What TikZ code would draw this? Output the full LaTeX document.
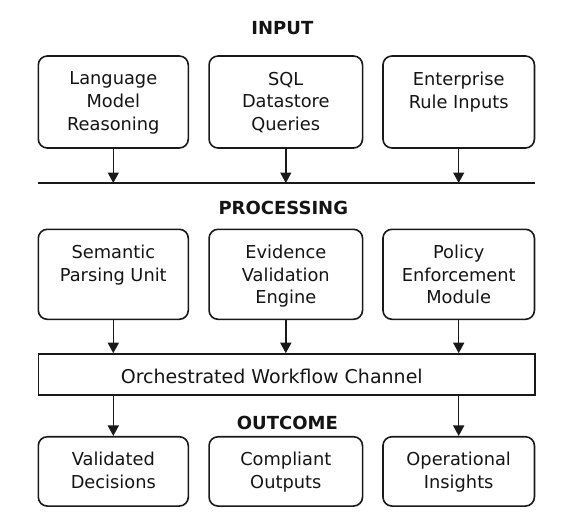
\documentclass[tikz,border=0pt]{standalone}
\usepackage{fontspec}
\setmainfont{DejaVu Sans}
\usetikzlibrary{arrows.meta}
\begin{document}
\begin{tikzpicture}[x=1pt,y=-1pt,
  box/.style={draw=black!90, line width=1.6pt, rounded corners=9pt, minimum width=#1, inner sep=0pt},
  lbl/.style={align=center, anchor=north, inner sep=0pt, font=\fontsize{17.8}{22.6}\selectfont, text=black!92},
  ttl/.style={inner sep=0pt, font=\fontsize{18}{22}\selectfont\bfseries, text=black!92},
  arr/.style={line width=1.5pt, draw=black!90, -{Triangle[length=10.5pt,width=11pt]}}]
\useasboundingbox (0,0) rectangle (574,528);
% titles
\node[ttl] (tin) at (282.4,28) {INPUT};
\node[ttl] (tpr) at (283.3,208) {PROCESSING};
\node[ttl] (tout) at (287.4,423) {OUTCOME};
% input row
\node[box=150pt, minimum height=92pt] (i1) at (113.3,102) {};
\node[box=153.5pt, minimum height=92pt] (i2) at (285.8,102) {};
\node[box=151.5pt, minimum height=92pt] (i3) at (458.7,102) {};
\node[lbl] (li1) at ([yshift=-16.5pt]i1.north) {Language\\Model\\Reasoning};
\node[lbl] (li2) at ([yshift=-16.5pt]i2.north) {SQL\\Datastore\\Queries};
\node[lbl] (li3) at ([yshift=-16.5pt]i3.north) {Enterprise\\Rule Inputs};
% separator line
\coordinate (L1) at (38.4,183);
\coordinate (L2) at (535,183);
\draw[line width=1.8pt, black!90] (L1) -- (L2);
\foreach \b in {i1,i2,i3} \draw[arr] (\b.south) -- (\b.south |- L1);
% processing row
\node[box=150pt, minimum height=90pt] (p1) at (113.3,274.3) {};
\node[box=153.5pt, minimum height=90pt] (p2) at (285.8,274.3) {};
\node[box=151.5pt, minimum height=90pt] (p3) at (458.7,274.3) {};
\node[lbl] (lp1) at ([yshift=-16.5pt]p1.north) {Semantic\\Parsing Unit};
\node[lbl] (lp2) at ([yshift=-16.5pt]p2.north) {Evidence\\Validation\\Engine};
\node[lbl] (lp3) at ([yshift=-16.5pt]p3.north) {Policy\\Enforcement\\Module};
% orchestrator
\node[draw=black!90, line width=1.6pt, minimum width=496.6pt, minimum height=41pt, inner sep=0pt] (orch) at (286.7,374.5) {};
\node[inner sep=0pt, anchor=base, font=\fontsize{19}{22}\selectfont, text=black!92] (lorch) at (271.8,383.5) {Orchestrated Workflow Channel};
\foreach \b in {p1,p2,p3} \draw[arr] (\b.south) -- (\b.south |- orch.north);
% outcome row
\node[box=150pt, minimum height=69.3pt] (o1) at (113.3,471.4) {};
\node[box=153.5pt, minimum height=69.3pt] (o2) at (285.8,471.4) {};
\node[box=151.5pt, minimum height=69.3pt] (o3) at (458.7,471.4) {};
\node[lbl] (lo1) at ([yshift=-16pt]o1.north) {Validated\\Decisions};
\node[lbl] (lo2) at ([yshift=-16pt]o2.north) {Compliant\\Outputs};
\node[lbl] (lo3) at ([yshift=-16pt]o3.north) {Operational\\Insights};
\draw[arr] (orch.south -| o1.north) -- (o1.north);
\draw[arr] (orch.south -| o3.north) -- (o3.north);
\end{tikzpicture}
\end{document}
